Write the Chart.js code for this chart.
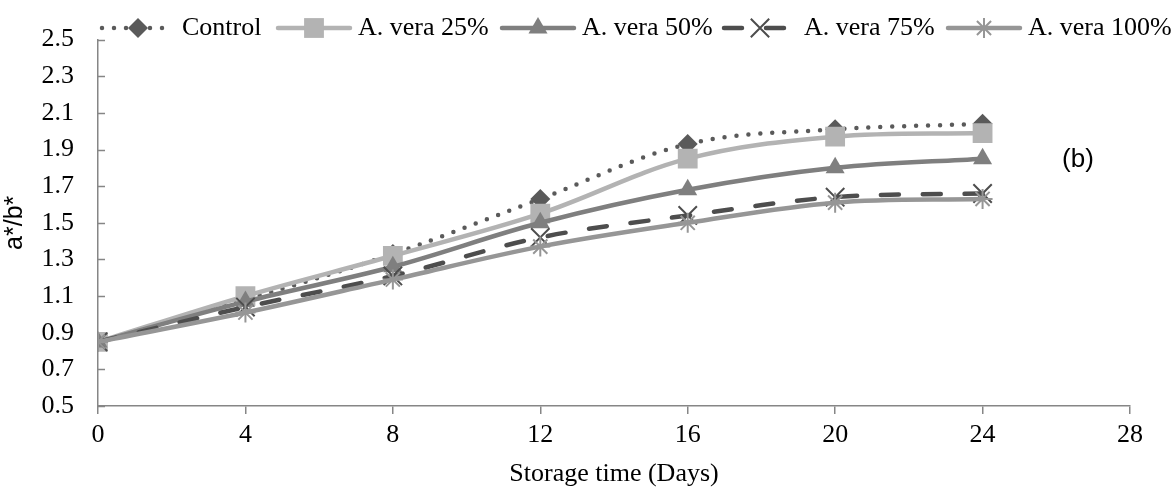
<!DOCTYPE html>
<html>
<head>
<meta charset="utf-8">
<script src="https://cdn.jsdelivr.net/npm/chart.js@4.4.1/dist/chart.umd.min.js"></script>
<style>
  html, body { margin: 0; padding: 0; background: #fff; }
  #wrap { width: 1172px; height: 490px; position: relative; }
</style>
</head>
<body>
<div id="wrap"><canvas id="chart"></canvas></div>
<script>
const days = [0, 4, 8, 12, 16, 20, 24];
const control = [0.85, 1.08, 1.33, 1.63, 1.93, 2.01, 2.04];
const vera25 = [0.85, 1.10, 1.32, 1.55, 1.85, 1.97, 1.99];
const vera50 = [0.85, 1.07, 1.26, 1.50, 1.68, 1.80, 1.85];
const vera75 = [0.85, 1.04, 1.21, 1.42, 1.54, 1.64, 1.66];
const vera100 = [0.85, 1.01, 1.19, 1.37, 1.50, 1.61, 1.63];
const xTicks = [0, 4, 8, 12, 16, 20, 24, 28];
const yTicks = [0.5, 0.7, 0.9, 1.1, 1.3, 1.5, 1.7, 1.9, 2.1, 2.3, 2.5];
const seriesNames = ['Control', 'A. vera 25%', 'A. vera 50%', 'A. vera 75%', 'A. vera 100%'];

const serif = 'Liberation Serif';
const axisColor = '#868686';

const toPoints = vals => days.map((d, i) => ({ x: d, y: vals[i] }));

const styles = [
    { color: '#5a5a5a', dash: [0, 12], point: 'rectRot', radius: 10, fill: true },
    { color: '#b3b3b3', dash: [], point: 'rect', radius: 14, fill: true },
    { color: '#7f7f7f', dash: [], point: 'triangle', radius: 11, fill: true },
    { color: '#4d4d4d', dash: [18, 24], point: 'crossRot', radius: 13, fill: false },
    { color: '#969696', dash: [], point: 'star', radius: 10, fill: false }
];

const datasets = [control, vera25, vera50, vera75, vera100].map((vals, i) => ({
    label: seriesNames[i],
    data: toPoints(vals),
    borderColor: styles[i].color,
    backgroundColor: styles[i].color,
    borderWidth: 4.5,
    borderDash: styles[i].dash,
    borderCapStyle: 'round',
    tension: 0.35,
    pointStyle: styles[i].point,
    pointRadius: styles[i].radius,
    pointHoverRadius: styles[i].radius,
    pointBorderWidth: styles[i].fill ? 0 : 2,
    pointBorderColor: styles[i].color,
    pointBackgroundColor: styles[i].color,
    order: 5 - i
}));

// legend with line samples, inside ticks on the y axis, and the panel tag
const extras = {
    id: 'extras',
    beforeDatasetsDraw(chart) {
        const ctx = chart.ctx, y = chart.scales.y, left = chart.chartArea.left;
        ctx.save();
        ctx.strokeStyle = axisColor;
        ctx.lineWidth = 1.5;
        yTicks.forEach(v => {
            const py = Math.round(y.getPixelForValue(v)) + 0.5;
            ctx.beginPath();
            ctx.moveTo(left, py);
            ctx.lineTo(left + 7, py);
            ctx.stroke();
        });
        ctx.restore();
    },
    afterDraw(chart) {
        const ctx = chart.ctx;
        const starts = [102, 278, 502, 724, 948];
        const len = 72, ly = 28;
        ctx.save();
        chart.data.datasets.forEach((ds, i) => {
            const sx = starts[i];
            ctx.save();
            ctx.strokeStyle = ds.borderColor;
            ctx.lineWidth = ds.borderWidth;
            ctx.lineCap = 'round';
            ctx.setLineDash(ds.borderDash);
            ctx.beginPath();
            ctx.moveTo(sx, ly);
            ctx.lineTo(sx + len, ly);
            ctx.stroke();
            ctx.restore();
            ctx.save();
            ctx.fillStyle = ds.pointBackgroundColor;
            ctx.strokeStyle = ds.pointBorderColor;
            ctx.lineWidth = ds.pointBorderWidth;
            Chart.helpers.drawPoint(ctx, {
                pointStyle: ds.pointStyle, radius: ds.pointRadius, borderWidth: ds.pointBorderWidth, rotation: 0
            }, sx + len / 2, ly);
            ctx.restore();
            ctx.fillStyle = '#000';
            ctx.font = `26px "${serif}"`;
            ctx.textBaseline = 'middle';
            ctx.textAlign = 'left';
            ctx.fillText(ds.label, sx + len + 8, ly);
        });
        ctx.font = '26px "Liberation Sans"';
        ctx.textAlign = 'center';
        ctx.textBaseline = 'middle';
        ctx.fillStyle = '#000';
        ctx.fillText('(b)', 1078, 160);
        ctx.restore();
    }
};

new Chart(document.getElementById('chart'), {
    type: 'line',
    data: { datasets },
    options: {
        responsive: true,
        maintainAspectRatio: false,
        animation: false,
        events: [],
        layout: { padding: { top: 27, right: 42, left: 0, bottom: 0 } },
        plugins: { legend: { display: false }, tooltip: { enabled: false } },
        scales: {
            x: {
                type: 'linear',
                min: 0, max: 28,
                afterBuildTicks: s => { s.ticks = xTicks.map(v => ({ value: v })); },
                afterFit: s => { s.height = 84; },
                grid: { display: true, drawOnChartArea: false, drawTicks: true, tickLength: 8, color: axisColor, lineWidth: 1.5 },
                border: { display: true, color: axisColor, width: 1.5 },
                ticks: { color: '#000', padding: 6, maxRotation: 0, font: { family: serif, size: 26 } },
                title: { display: true, text: 'Storage time (Days)', color: '#000', padding: { top: 0, bottom: 0 }, font: { family: serif, size: 26 } }
            },
            y: {
                min: 0.5, max: 2.5,
                afterBuildTicks: s => { s.ticks = yTicks.map(v => ({ value: v })); },
                afterFit: s => { s.width = 98; },
                grid: { display: false, drawTicks: false },
                border: { display: true, color: axisColor, width: 1.5 },
                ticks: { color: '#000', padding: 24, font: { family: serif, size: 26 }, callback: v => v.toFixed(1) },
                title: { display: true, text: 'a*/b*', color: '#000', padding: { top: 0, bottom: 0 }, font: { family: 'Liberation Sans', size: 25 } }
            }
        }
    },
    plugins: [extras]
});
</script>
</body>
</html>
